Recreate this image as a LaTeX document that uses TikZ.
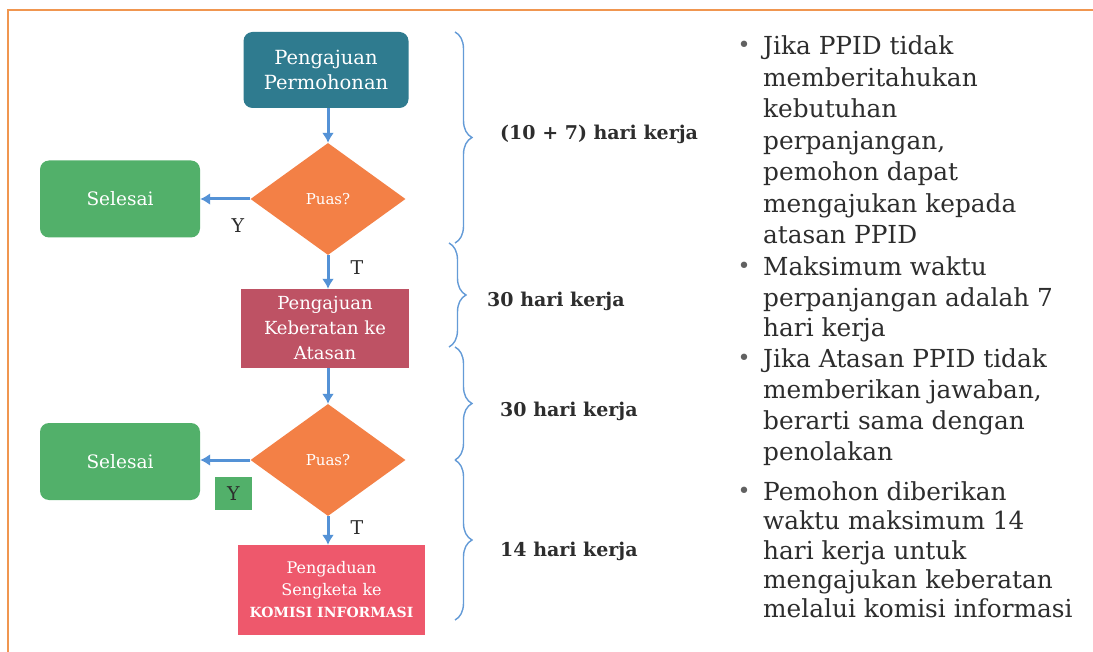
\documentclass[tikz,border=0pt]{standalone}
\usepackage{fontspec}
\setmainfont{DejaVu Serif}
\usetikzlibrary{arrows.meta,shapes.geometric,decorations.pathreplacing}
\definecolor{tealbox}{RGB}{47,123,143}
\definecolor{orangedia}{RGB}{243,128,70}
\definecolor{greenbox}{RGB}{82,176,106}
\definecolor{maroonbox}{RGB}{190,82,100}
\definecolor{redbox}{RGB}{238,88,108}
\definecolor{arrowblue}{RGB}{84,146,214}
\definecolor{braceblue}{RGB}{100,155,215}
\definecolor{bordercol}{RGB}{240,150,80}
\definecolor{bodytext}{RGB}{45,45,45}
\tikzset{
  flowbox/.style={draw=none, text=white, align=center, inner sep=2pt},
  decision/.style={diamond, draw=none, fill=orangedia, text=white, inner sep=0pt,
    minimum width=155pt, minimum height=112pt, font=\fontsize{15}{17}\selectfont},
  endbox/.style={flowbox, fill=greenbox, rounded corners=9pt, minimum width=160pt,
    minimum height=77pt, font=\fontsize{18.5}{22}\selectfont},
  flowarrow/.style={draw=arrowblue, line width=3pt, -{Latex[length=10pt,width=12pt]}},
  bracepath/.style={draw=braceblue, line width=1.4pt, decorate,
    decoration={brace, amplitude=17pt}},
  daylabel/.style={anchor=west, text=bodytext, font=\bfseries\fontsize{19}{22}\selectfont, inner sep=0pt},
  yt/.style={text=bodytext, font=\fontsize{19}{22}\selectfont, inner sep=0pt},
  bullettext/.style={anchor=north west, align=left, text=bodytext, inner sep=0pt},
  bulletdot/.style={text=bodytext!75, font=\fontsize{22}{24}\selectfont, inner sep=0pt}
}
\begin{document}
\begin{tikzpicture}[x=1pt,y=-1pt]
\useasboundingbox (0,0) rectangle (1093,652);
\fill[white] (0,0) rectangle (1093,652);
\draw[bordercol, line width=1.6pt] (8,652) -- (8,10) -- (1093,10);

% flow nodes
\node[flowbox, fill=tealbox, rounded corners=9pt, minimum width=165pt, minimum height=76pt,
  font=\fontsize{19.5}{25}\selectfont] (start) at (326,70) {Pengajuan\\Permohonan};
\node[decision] (d1) at (328,199) {Puas?};
\node[endbox] (s1) at (120,199) {Selesai};
\node[flowbox, fill=maroonbox, minimum width=168pt, minimum height=79pt,
  font=\fontsize{18}{25}\selectfont] (keb) at (325,328.5) {Pengajuan\\Keberatan ke\\Atasan};
\node[decision] (d2) at (328,460) {Puas?};
\node[endbox] (s2) at (120,461.5) {Selesai};
\node[flowbox, fill=redbox, minimum width=187pt, minimum height=90pt,
  font=\fontsize{16}{22}\selectfont] (peng) at (331.5,590)
  {Pengaduan\\Sengketa ke\\{\bfseries\fontsize{14}{22}\selectfont KOMISI INFORMASI}};

% connectors
\draw[flowarrow] (start.south -| d1.north) -- (d1.north);
\draw[flowarrow] (d1.west) -- (d1.west -| s1.east);
\draw[flowarrow] (d1.south) -- (d1.south |- keb.north);
\draw[flowarrow] (keb.south -| d1.south) -- (d2.north);
\draw[flowarrow] (d2.west) -- (d2.west -| s2.east);
\draw[flowarrow] (d2.south) -- (d2.south |- peng.north);

% Y / T labels
\node[yt] (y1) at (238,226) {Y};
\node[yt] (t1) at (357,268) {T};
\node[yt, fill=greenbox, minimum width=37pt, minimum height=33pt] (y2) at (233.5,493.5) {Y};
\node[yt] (t2) at (357,528) {T};

% braces
\coordinate (b1a) at (455,32);
\coordinate (b1b) at (455,243);
\coordinate (b2a) at (449,243);
\coordinate (b2b) at (449,347);
\coordinate (b3a) at (455,347);
\coordinate (b3b) at (455,460);
\coordinate (b4a) at (455,460);
\coordinate (b4b) at (455,620);
\draw[bracepath] (b1a) -- (b1b);
\draw[bracepath] (b2a) -- (b2b);
\draw[bracepath] (b3a) -- (b3b);
\draw[bracepath] (b4a) -- (b4b);
\node[daylabel] (l1) at (500,134) {(10 + 7) hari kerja};
\node[daylabel] (l2) at (487,301) {30 hari kerja};
\node[daylabel] (l3) at (500,411) {30 hari kerja};
\node[daylabel] (l4) at (500,551) {14 hari kerja};

% notes
\node[bulletdot] (p1) at (744,47) {•};
\node[bullettext, font=\fontsize{24.8}{31.5}\selectfont] (n1) at (763,35.5)
  {Jika PPID tidak\\memberitahukan\\kebutuhan\\perpanjangan,\\pemohon dapat\\mengajukan kepada\\atasan PPID};
\node[bulletdot] (p2) at (744,268) {•};
\node[bullettext, font=\fontsize{24.8}{30.5}\selectfont] (n2) at (763,256.5)
  {Maksimum waktu\\perpanjangan adalah 7\\hari kerja};
\node[bulletdot] (p3) at (744,360) {•};
\node[bullettext, font=\fontsize{24.8}{31}\selectfont] (n3) at (763,348.5)
  {Jika Atasan PPID tidak\\memberikan jawaban,\\berarti sama dengan\\penolakan};
\node[bulletdot] (p4) at (744,493) {•};
\node[bullettext, font=\fontsize{24.8}{29.3}\selectfont] (n4) at (763,481.5)
  {Pemohon diberikan\\waktu maksimum 14\\hari kerja untuk\\mengajukan keberatan\\melalui komisi informasi};
\end{tikzpicture}
\end{document}
